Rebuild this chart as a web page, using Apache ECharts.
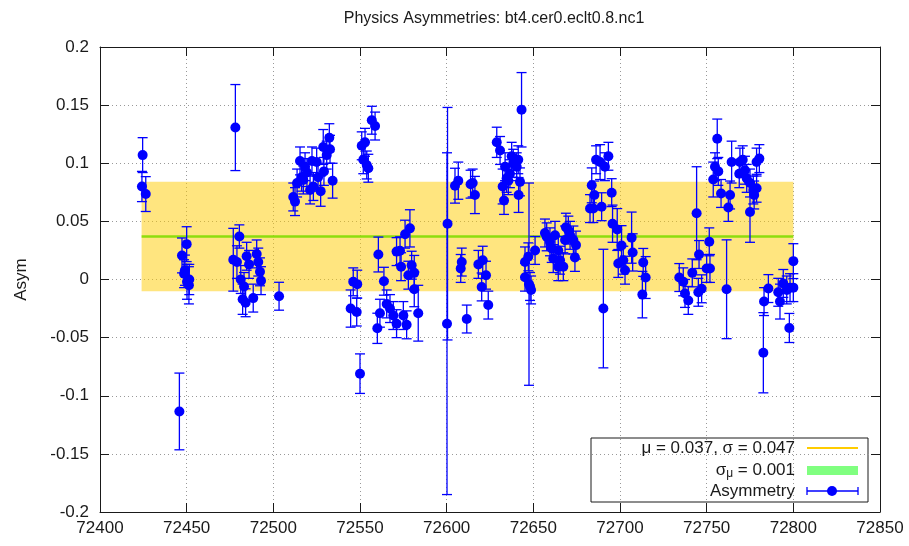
<!DOCTYPE html>
<html><head><meta charset="utf-8">
<script src="https://cdn.jsdelivr.net/npm/echarts@6/dist/echarts.min.js"></script>
<style>html,body{margin:0;padding:0;background:#fff}#c{width:909px;height:546px}</style>
</head><body><div id="c"></div>
<script>
// ---- data ----
const runNumber = [
 72424.6,72424.2,72426.4,
 72445.8,72447.3,72450.0,72448.5,72451.5,72451.3,72449.0,72450.2,
 72478.1,72480.4,72476.9,72479.0,72484.6,72486.0,72490.4,72491.3,72492.3,72492.9,72481.2,72483.1,72482.3,72484.0,72488.4,
 72503.3,
 72511.5,72512.5,72515.4,72518.3,72516.3,72521.2,72525.0,72528.8,72532.3,72532.7,72530.8,72529.2,72534.2,72527.3,72517.3,72523.1,72513.7,72519.4,72522.3,72525.8,
 72551.0,72552.9,72551.9,72553.9,72554.8,72556.8,72558.7,
 72546.1,72548.4,72544.6,72548.1,72550.0,72560.6,72563.8,72561.5,72560.0,72565.4,72567.3,72569.2,72571.1,72575.0,72576.9,72583.6,72571.1,72573.1,72573.7,72576.0,72578.8,72577.9,72581.3,72581.3,72579.8,
 72600.5,72600.2,
 72604.8,72606.7,72613.8,72615.0,72616.3,72608.7,72608.1,72618.3,72620.8,72622.7,72620.2,72611.6,72624.0,
 72628.9,72630.8,72633.7,72632.3,72633.1,72635.6,72637.5,72638.4,72640.4,72641.3,72643.2,72642.3,72641.5,72636.5,72634.6,
 72645.2,72647.1,72651.0,72645.2,72648.1,72648.7,72647.5,
 72656.7,72657.7,72659.6,72662.5,72660.6,72661.5,72664.4,72665.4,72664.4,72667.3,72668.8,72670.2,72671.2,72673.1,72674.6,72674.0,72668.3,
 72682.7,72684.6,72685.2,72683.7,72686.2,72688.5,72691.3,72693.3,72689.4,72695.2,72695.7,72698.4,72700.9,72706.7,72707.3,72690.4,72699.0,72701.9,72702.9,72713.4,72714.8,72712.9,
 72734.2,72736.5,72737.5,72739.4,72741.7,72745.2,72747.1,72745.6,72744.2,72750.0,72751.9,72751.5,72761.5,
 72756.1,72754.8,72756.7,72753.8,72758.3,72762.5,72763.5,72764.4,72769.2,72770.8,72768.8,72772.1,72773.1,72775.0,72776.9,72778.8,72780.4,72778.8,72777.4,72775.0,
 72783.1,72782.7,72785.6,72791.3,72792.3,72794.2,72796.2,72798.1,72800.0,72797.7,72800.0
];
const asymmetry = [
 0.107,0.080,0.0735,
 -0.1135,0.0207,0.0304,0.005,0.0,-0.005,0.008,-0.002,
 0.1307,0.037,0.017,0.015,0.020,0.013,0.022,0.015,0.0066,-0.001,0.0,-0.006,-0.017,-0.020,-0.016,
 -0.0144,
 0.071,0.067,0.102,0.097,0.088,0.077,0.101,0.114,0.122,0.112,0.107,0.093,0.085,0.076,0.0856,0.080,0.083,0.092,0.102,0.088,
 0.115,0.118,0.103,0.0985,0.0957,0.137,0.132,
 -0.002,-0.004,-0.025,-0.028,-0.081,0.0215,-0.0015,-0.029,-0.042,-0.021,-0.025,-0.031,-0.038,-0.031,-0.039,-0.029,0.024,0.0247,0.011,0.039,0.044,0.0037,0.0057,-0.0084,0.0123,
 0.048,-0.038,
 0.0807,0.085,0.082,0.083,0.0727,0.015,0.0095,0.013,0.0166,0.0037,-0.0064,-0.034,-0.022,
 0.118,0.111,0.097,0.080,0.068,0.085,0.106,0.100,0.097,0.103,0.146,0.084,0.0727,0.091,0.087,
 0.015,0.0195,0.025,0.002,-0.006,-0.009,-0.004,
 0.040,0.0367,0.0324,0.038,0.0267,0.018,0.025,0.0166,0.011,0.011,0.045,0.0425,0.038,0.034,0.0296,0.019,0.034,
 0.061,0.061,0.0727,0.081,0.103,0.101,0.097,0.106,0.0626,0.0747,0.048,0.043,0.0293,0.036,0.0233,-0.025,0.0138,0.0166,0.008,0.0147,0.0017,-0.013,
 0.0017,-0.002,-0.012,-0.018,0.0057,-0.011,-0.008,0.0215,0.057,0.0095,0.0095,0.0324,-0.0084,
 0.121,0.097,0.093,0.086,0.074,0.062,0.0727,0.101,0.101,0.103,0.091,0.094,0.087,0.083,0.077,0.0785,0.104,0.101,0.0727,0.058,
 -0.019,-0.063,-0.0078,-0.011,-0.019,-0.0034,-0.009,-0.007,-0.007,-0.0417,0.0158
];
const asymError = [
 0.015,0.013,0.015,
 0.033,0.015,0.015,0.012,0.013,0.016,0.013,0.015,
 0.037,0.010,0.027,0.014,0.012,0.012,0.012,0.012,0.012,0.012,0.012,0.012,0.013,0.012,0.012,
 0.012,
 0.012,0.012,0.012,0.012,0.012,0.012,0.012,0.015,0.012,0.012,0.012,0.012,0.015,0.013,0.012,0.012,0.012,0.012,0.012,0.012,
 0.012,0.012,0.012,0.012,0.012,0.012,0.012,
 0.012,0.012,0.016,0.012,0.017,0.015,0.012,0.012,0.013,0.012,0.012,0.012,0.012,0.012,0.012,0.024,0.012,0.012,0.012,0.012,0.016,0.012,0.015,0.015,0.012,
 0.100,0.147,
 0.015,0.016,0.012,0.012,0.016,0.012,0.012,0.012,0.012,0.012,0.012,0.012,0.012,
 0.013,0.012,0.012,0.015,0.012,0.012,0.012,0.012,0.012,0.012,0.032,0.012,0.015,0.012,0.012,
 0.013,0.012,0.012,0.012,0.012,0.012,0.087,
 0.012,0.012,0.012,0.012,0.012,0.012,0.012,0.012,0.012,0.012,0.012,0.012,0.012,0.012,0.012,0.012,0.012,
 0.012,0.012,0.012,0.015,0.012,0.015,0.012,0.012,0.012,0.012,0.016,0.018,0.017,0.022,0.016,0.051,0.012,0.012,0.012,0.012,0.018,0.020,
 0.012,0.012,0.012,0.012,0.012,0.012,0.012,0.012,0.040,0.012,0.012,0.012,0.0425,
 0.017,0.012,0.012,0.015,0.012,0.012,0.012,0.018,0.012,0.012,0.012,0.012,0.012,0.012,0.012,0.012,0.012,0.012,0.012,0.026,
 0.012,0.0345,0.012,0.012,0.015,0.012,0.012,0.012,0.012,0.0125,0.015
];
const meanValue = 0.037, sigmaValue = 0.047, sigmaMean = 0.001;
const fitRange = [72424, 72800];
const xTickRange = [72400, 72850, 50];
const yTickRange = [-0.2, 0.2, 0.05];
const titleText = 'Physics Asymmetries: bt4.cer0.eclt0.8.nc1';
const yName = 'Asym';

const FONT = 'Liberation Sans, Arial, sans-serif';
const BLUE = '#0000ff';
const chart = echarts.init(document.getElementById('c'), null, {renderer: 'canvas'});
const points = runNumber.map((x, i) => [x, asymmetry[i], asymError[i]]);

const frameLine = {show: true, onZero: false, lineStyle: {color: '#1a1a1a', width: 1}};
const yFmt = v => String(Number(v.toFixed(2)));

chart.setOption({
  animation: false,
  backgroundColor: '#ffffff',
  title: {text: titleText, left: 489, top: 6, textAlign: 'center',
    textStyle: {fontFamily: FONT, fontSize: 16, fontWeight: 'normal', color: '#1a1a1a'}},
  grid: {left: 100, right: 29, top: 47, bottom: 34},
  xAxis: [
    {type: 'value', min: xTickRange[0], max: xTickRange[1], interval: xTickRange[2], position: 'bottom',
     axisLine: frameLine, axisTick: {show: true, inside: true, length: 9, lineStyle: {color: '#1a1a1a'}},
     axisLabel: {formatter: v => String(v), fontFamily: FONT, fontSize: 17, color: '#1a1a1a', margin: 8},
     splitLine: {show: true, lineStyle: {type: [1, 3], color: '#999999', width: 1}}},
    {type: 'value', min: xTickRange[0], max: xTickRange[1], interval: xTickRange[2], position: 'top',
     axisLine: frameLine, axisTick: {show: true, inside: true, length: 9, lineStyle: {color: '#1a1a1a'}},
     axisLabel: {show: false}, splitLine: {show: false}}
  ],
  yAxis: [
    {type: 'value', min: yTickRange[0], max: yTickRange[1], interval: yTickRange[2], position: 'left',
     name: yName, nameLocation: 'middle', nameGap: 70, nameRotate: 90,
     nameTextStyle: {fontFamily: FONT, fontSize: 17, color: '#1a1a1a'},
     axisLine: frameLine, axisTick: {show: true, inside: true, length: 9, lineStyle: {color: '#1a1a1a'}},
     axisLabel: {formatter: yFmt, fontFamily: FONT, fontSize: 17, color: '#1a1a1a', margin: 11},
     splitLine: {show: true, lineStyle: {type: [1, 3], color: '#999999', width: 1}}},
    {type: 'value', min: yTickRange[0], max: yTickRange[1], interval: yTickRange[2], position: 'right',
     axisLine: frameLine, axisTick: {show: true, inside: true, length: 9, lineStyle: {color: '#1a1a1a'}},
     axisLabel: {show: false}, splitLine: {show: false}}
  ],
  series: [
    {type: 'line', name: 'band', data: [], silent: true, z: 1,
     markArea: {silent: true, itemStyle: {color: 'rgba(255,204,0,0.5)'},
       data: [[{coord: [fitRange[0], meanValue - sigmaValue]}, {coord: [fitRange[1], meanValue + sigmaValue]}]]}},
    {type: 'line', name: 'sigmaMu', data: [], silent: true, z: 2,
     markArea: {silent: true, itemStyle: {color: 'rgba(130,220,0,0.9)'},
       data: [[{coord: [fitRange[0], meanValue - sigmaMean]}, {coord: [fitRange[1], meanValue + sigmaMean]}]]}},
    {type: 'custom', name: 'errors', z: 3, clip: true,
     data: points,
     renderItem: function (params, api) {
       const x = api.value(0), y = api.value(1), e = api.value(2);
       const t = api.coord([x, y + e]), b = api.coord([x, y - e]);
       const hw = 5, st = {stroke: BLUE, lineWidth: 1.3};
       return {type: 'group', children: [
         {type: 'line', shape: {x1: t[0], y1: t[1], x2: b[0], y2: b[1]}, style: st},
         {type: 'line', shape: {x1: t[0] - hw, y1: t[1], x2: t[0] + hw, y2: t[1]}, style: st},
         {type: 'line', shape: {x1: b[0] - hw, y1: b[1], x2: b[0] + hw, y2: b[1]}, style: st}
       ]};
     }},
    {type: 'scatter', name: 'Asymmetry', z: 4, data: points.map(p => [p[0], p[1]]),
     symbol: 'circle', symbolSize: 10, itemStyle: {color: BLUE, opacity: 1}}
  ],
  graphic: [
    {type: 'group', z: 100, children: [
      {type: 'rect', shape: {x: 591, y: 438, width: 277, height: 64},
       style: {fill: '#ffffff', stroke: '#1a1a1a', lineWidth: 1}},
      {type: 'text', x: 795, y: 448, style: {text: 'μ = ' + meanValue.toFixed(3) + ', σ = ' + sigmaValue.toFixed(3),
        textAlign: 'right', textVerticalAlign: 'middle', font: '17px ' + FONT, fill: '#1a1a1a'}},
      {type: 'line', shape: {x1: 807, y1: 448, x2: 858, y2: 448}, style: {stroke: '#ffcc00', lineWidth: 2}},
      {type: 'text', x: 795, y: 470, style: {
        rich: {n: {fontSize: 17, fontFamily: FONT, fill: '#1a1a1a'}, s: {fontSize: 12, fontFamily: FONT, fill: '#1a1a1a', padding: [8, 0, 0, 0]}},
        text: '{n|σ}{s|μ}{n| = ' + sigmaMean.toFixed(3) + '}', textAlign: 'right', textVerticalAlign: 'middle'}},
      {type: 'rect', shape: {x: 807, y: 466, width: 51, height: 9}, style: {fill: '#80ff80'}},
      {type: 'text', x: 795, y: 491, style: {text: 'Asymmetry', textAlign: 'right', textVerticalAlign: 'middle',
        font: '17px ' + FONT, fill: '#1a1a1a'}},
      {type: 'line', shape: {x1: 807, y1: 491, x2: 858, y2: 491}, style: {stroke: BLUE, lineWidth: 1.3}},
      {type: 'line', shape: {x1: 807, y1: 487, x2: 807, y2: 495}, style: {stroke: BLUE, lineWidth: 1.3}},
      {type: 'line', shape: {x1: 858, y1: 487, x2: 858, y2: 495}, style: {stroke: BLUE, lineWidth: 1.3}},
      {type: 'circle', shape: {cx: 832, cy: 491, r: 5}, style: {fill: BLUE}}
    ]}
  ]
});
</script></body></html>
